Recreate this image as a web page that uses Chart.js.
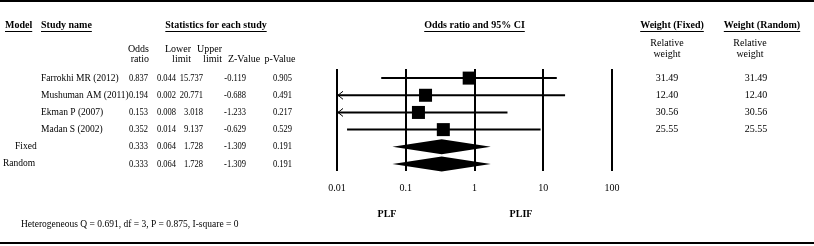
<!DOCTYPE html>
<html>
<head>
<meta charset="utf-8">
<script src="https://cdn.jsdelivr.net/npm/chart.js@4/dist/chart.umd.min.js"></script>
<style>
  html, body { margin: 0; padding: 0; background: #fff; }
  #wrap { width: 814px; height: 246px; }
</style>
</head>
<body>
<div id="wrap"><canvas id="forestChart" width="814" height="246"></canvas></div>
<script>
// study level data
const studies = ['Farrokhi MR (2012)', 'Mushuman AM (2011)', 'Ekman P (2007)', 'Madan S (2002)'];
const oddsRatio = [0.837, 0.194, 0.153, 0.352];
const lowerLimit = [0.044, 0.002, 0.008, 0.014];
const upperLimit = [15.737, 20.771, 3.018, 9.137];
const zValue = ['-0.119', '-0.688', '-1.233', '-0.629'];
const pValue = ['0.905', '0.491', '0.217', '0.529'];
const weightFixed = ['31.49', '12.40', '30.56', '25.55'];
const weightRandom = ['31.49', '12.40', '30.56', '25.55'];

// pooled estimates
const models = ['Fixed', 'Random'];
const pooledOR = [0.333, 0.333];
const pooledLower = [0.064, 0.064];
const pooledUpper = [1.728, 1.728];
const pooledZ = ['-1.309', '-1.309'];
const pooledP = ['0.191', '0.191'];

const xTicks = [0.01, 0.1, 1, 10, 100];
const favourLabels = ['PLF', 'PLIF'];
const heterogeneity = 'Heterogeneous Q = 0.691, df = 3, P = 0.875, I-square = 0';

const FONT = '"Liberation Serif", "Times New Roman", serif';
const xMin = xTicks[0];

function fmt(v) {
    return v.toFixed(3);
}

const forestPlugin = {
    id: 'forestTable',
    afterDatasetsDraw(chart) {
        const ctx = chart.ctx;
        const x = chart.scales.x;
        const y = chart.scales.y;
        ctx.save();
        // pooled diamonds
        ctx.fillStyle = '#000';
        models.forEach((m, k) => {
            const row = studies.length + k;
            const cy = y.getPixelForValue(row);
            ctx.beginPath();
            ctx.moveTo(x.getPixelForValue(pooledLower[k]), cy);
            ctx.lineTo(x.getPixelForValue(pooledOR[k]), cy - 7.5);
            ctx.lineTo(x.getPixelForValue(pooledUpper[k]), cy);
            ctx.lineTo(x.getPixelForValue(pooledOR[k]), cy + 7.5);
            ctx.closePath();
            ctx.fill();
        });
        // arrows for limits beyond the axis
        ctx.strokeStyle = '#000';
        ctx.lineWidth = 1;
        studies.forEach((s, i) => {
            if (lowerLimit[i] < xMin) {
                const cy = y.getPixelForValue(i);
                const px = x.getPixelForValue(xMin) + 1;
                ctx.beginPath();
                ctx.moveTo(px + 5, cy - 4);
                ctx.lineTo(px, cy);
                ctx.lineTo(px + 5, cy + 4);
                ctx.stroke();
            }
        });
        ctx.restore();
    },
    afterDraw(chart) {
        const ctx = chart.ctx;
        const x = chart.scales.x;
        const y = chart.scales.y;
        const W = chart.width;

        function text(str, px, py, align, bold, underline, size) {
            ctx.font = (bold ? 'bold ' : '') + (size || 10) + 'px ' + FONT;
            ctx.textAlign = align;
            ctx.textBaseline = 'middle';
            ctx.fillText(str, px, py);
            if (underline) {
                const w = ctx.measureText(str).width;
                let x0 = px;
                if (align === 'center') x0 = px - w / 2;
                if (align === 'right') x0 = px - w;
                ctx.fillRect(x0, py + 6, w, 1);
            }
        }

        // numbers in the statistics block are set a little narrow
        function num(str, px, py, align) {
            ctx.save();
            ctx.font = '10px ' + FONT;
            ctx.textAlign = align;
            ctx.textBaseline = 'middle';
            ctx.translate(px, py);
            ctx.scale(0.85, 1);
            ctx.fillText(str, 0, 0);
            ctx.restore();
        }

        ctx.save();
        ctx.fillStyle = '#000';

        // frame lines
        ctx.fillRect(0, 0, W, 2);
        ctx.fillRect(0, 242, W, 2);

        // headers
        const hy = 25;
        text('Model', 5, hy, 'left', true, true);
        text('Study name', 41, hy, 'left', true, true);
        text('Statistics for each study', 216, hy, 'center', true, true);
        text('Odds ratio and 95% CI', (x.left + x.right) / 2, hy, 'center', true, true);
        text('Weight (Fixed)', 672, hy, 'center', true, true);
        text('Weight (Random)', 762, hy, 'center', true, true);

        // sub headers
        text('Odds', 149, 49, 'right');
        text('ratio', 149, 59, 'right');
        text('Lower', 191, 49, 'right');
        text('limit', 191, 59, 'right');
        text('Upper', 222, 49, 'right');
        text('limit', 222, 59, 'right');
        text('Z-Value', 244, 59, 'center');
        text('p-Value', 280, 59, 'center');
        text('Relative', 667, 43, 'center');
        text('weight', 667, 54, 'center');
        text('Relative', 750, 43, 'center');
        text('weight', 750, 54, 'center');

        // study rows
        studies.forEach((s, i) => {
            const py = y.getPixelForValue(i);
            text(s, 41, py, 'left', false, false, 9.5);
            num(fmt(oddsRatio[i]), 148, py, 'right');
            num(fmt(lowerLimit[i]), 176, py, 'right');
            num(fmt(upperLimit[i]), 203, py, 'right');
            num(zValue[i], 246, py, 'right');
            num(pValue[i], 292, py, 'right');
            text(weightFixed[i], 667, py, 'center');
            text(weightRandom[i], 756, py, 'center');
        });

        // pooled rows
        models.forEach((m, k) => {
            const py = y.getPixelForValue(studies.length + k);
            text(m, k === 0 ? 15 : 3, py, 'left', false, false, 9.5);
            num(fmt(pooledOR[k]), 148, py, 'right');
            num(fmt(pooledLower[k]), 176, py, 'right');
            num(fmt(pooledUpper[k]), 203, py, 'right');
            num(pooledZ[k], 246, py, 'right');
            num(pooledP[k], 292, py, 'right');
        });

        // favours labels
        text(favourLabels[0], 387, 214, 'center', true);
        text(favourLabels[1], 521, 214, 'center', true);

        text(heterogeneity, 21, 224, 'left', false, false, 9.5);
        ctx.restore();
    }
};

const datasets = [];
studies.forEach((s, i) => {
    datasets.push({
        type: 'line',
        label: s,
        data: [{x: Math.max(lowerLimit[i], xMin), y: i}, {x: upperLimit[i], y: i}],
        borderColor: '#000',
        borderWidth: 2,
        pointRadius: 0,
        order: 2,
    });
});
datasets.push({
    type: 'scatter',
    label: 'Odds ratio',
    data: oddsRatio.map((v, i) => ({x: v, y: i})),
    pointStyle: 'rect',
    pointRadius: 9.2,
    backgroundColor: '#000',
    borderColor: '#000',
    borderWidth: 0,
    order: 1,
});

const ctx = document.getElementById('forestChart').getContext('2d');
new Chart(ctx, {
    type: 'scatter',
    data: { datasets: datasets },
    options: {
        responsive: false,
        animation: false,
        layout: {
            padding: { left: 337, right: 202, top: 69, bottom: 41 }
        },
        scales: {
            x: {
                type: 'logarithmic',
                min: 0.01,
                max: 100,
                border: { display: false },
                grid: {
                    color: '#000',
                    lineWidth: 2,
                    drawTicks: false,
                },
                afterBuildTicks: function(scale) {
                    scale.ticks = xTicks.map(v => ({ value: v }));
                },
                ticks: {
                    padding: 11,
                    color: '#000',
                    font: { family: FONT, size: 10 },
                    maxRotation: 0,
                    autoSkip: false,
                    callback: function(value) {
                        return String(value);
                    }
                }
            },
            y: {
                type: 'linear',
                display: false,
                reverse: true,
                min: -0.53,
                max: 5.41,
            }
        },
        plugins: {
            legend: { display: false },
            tooltip: { enabled: false }
        }
    },
    plugins: [forestPlugin]
});
</script>
</body>
</html>
